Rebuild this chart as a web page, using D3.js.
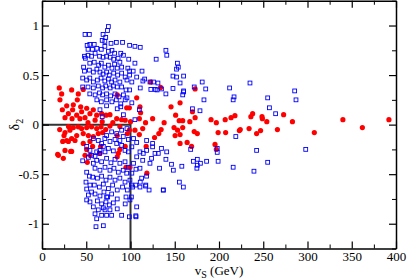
<!DOCTYPE html>
<html>
<head>
<meta charset="utf-8">
<script src="https://cdn.jsdelivr.net/npm/d3@7"></script>
<style>
  body { margin: 0; background: #fff; }
  .axis path, .axis line { stroke: #000; }
</style>
</head>
<body>
<div id="chart"></div>
<script>
// tick values
var xMajor = [0, 50, 100, 150, 200, 250, 300, 350, 400],
    xMinor = d3.range(25, 400, 50),
    yMajor = [-1, -0.5, 0, 0.5, 1],
    yMinor = [-1.25, -0.75, -0.25, 0.25, 0.75, 1.25];

// blue open squares [vS, delta2]
var bluePoints = [
  [75,0.99],[74,0.95],[48.6,0.91],[53.5,0.91],[69,0.91],[72,0.88],[68,0.85],[71,0.84],
  [54,0.81],[59,0.81],[78,0.82],[84,0.83],[91,0.83],[99,0.80],[105,0.79],[111,0.78],
  [52,0.76],[57,0.76],[62,0.77],[67,0.76],[71,0.79],[75,0.74],[79,0.75],[82,0.72],[89,0.72],[92,0.70],[98,0.66],[129,0.66],[140,0.75],[141,0.70],
  [48,0.69],[52,0.70],[56,0.69],[60,0.72],[65,0.69],[69,0.68],[73,0.69],[77,0.68],[81,0.66],[86,0.67],[88,0.63],[105,0.62],[153,0.62],[154,0.58],
  [54,0.62],[59,0.63],[64,0.60],[67,0.62],[71,0.58],[75,0.60],[79,0.57],[82,0.61],[85,0.57],[90,0.58],[97,0.57],[99,0.54],[103,0.54],[113,0.54],[152,0.56],[148,0.49],[160,0.49],
  [48,0.54],[53.5,0.55],[58,0.53],[62,0.56],[65.5,0.53],[69,0.51],[73,0.53],[76,0.50],[81,0.52],[85.5,0.50],[90,0.52],[94,0.48],[99,0.50],[107,0.48],[114,0.44],[116,0.46],
  [122,0.43],[126,0.43],[131,0.42],[111,0.37],[123,0.355],[128,0.355],[130,0.35],[135,0.36],[140,0.31],[148,0.365],[160,0.33],[152,0.48],
  [46,0.47],[50.5,0.45],[54,0.47],[58,0.43],[62.6,0.45],[66.7,0.47],[71,0.44],[75,0.46],[78.7,0.43],[82.5,0.45],[88,0.43],[96,0.45],[101.5,0.43],
  [52,0.38],[58,0.37],[63.6,0.39],[68.5,0.37],[72,0.39],[77,0.37],[80.6,0.39],[85,0.38],[90,0.38],[95,0.35],[99,0.35],
  [54,0.31],[60,0.30],[65,0.32],[68.5,0.30],[73,0.31],[77.5,0.29],[82.5,0.31],[87,0.28],[92,0.30],[96,0.27],
  [62,0.25],[67,0.23],[73,0.25],[79,0.23],[84,0.25],[89,0.21],[94,0.25],[101.5,0.22],
  [73,0.19],[85,0.16],[89,0.18],[110,0.15],[65.5,0.15],[51,0.80],[49,0.67],[46,0.38],[47,0.58],
  [68,0.08],[92,0.10],[105,0.05],
  [156,0.42],[160,0.34],[159,0.30],[172,0.38],[181,0.43],[185,0.36],[183,0.25],[212,0.37],[235,0.42],[217,0.28],[216,0.25],
  [170,0.16],[178.5,0.14],[255,0.27],[257,0.17],[264,0.11],[285.5,0.34],[287,0.25],
  [46,-0.365],[67.4,-0.19],[69.3,-0.22],[61.8,-0.275],[65.5,-0.26],[71.2,-0.275],[75,-0.24],[80.6,-0.265],[84.4,-0.19],[90,-0.21],[93.8,-0.26],
  [97.6,-0.275],[101.5,-0.224],[107,-0.18],[110.7,-0.275],[114.4,-0.29],[118.2,-0.26],[123.8,-0.34],[125,-0.224],[131.4,-0.29],[140,-0.35],
  [146.3,-0.40],[148.4,-0.46],[132.8,-0.44],[110.7,-0.44],[106.2,-0.45],[118.2,-0.52],[112.6,-0.54],[117.3,-0.61],[137.1,-0.66],[155.2,-0.58],[159.7,-0.63],
  [50.5,-0.48],[53.5,-0.52],[49.7,-0.58],[54.2,-0.61],[50.5,-0.65],[56,-0.68],[52.4,-0.71],[50.5,-0.76],[54.2,-0.78],[58,-0.83],[59.9,-0.90],
  [61.8,-0.95],[61,-1.03],[69.3,-1.02],[67.4,-0.915],[63.6,-0.86],[71.2,-0.86],[76.8,-0.86],[73,-0.915],[78.7,-0.915],[90,-0.915],[85,-0.85],[98.7,-0.93],[106.2,-0.93],
  [58,-0.39],[61.8,-0.36],[67.4,-0.375],[73,-0.34],[77.9,-0.385],[82.5,-0.35],[88,-0.39],[93.8,-0.375],[97.6,-0.43],[103.4,-0.39],
  [59.9,-0.44],[65.5,-0.46],[71.2,-0.43],[76.8,-0.46],[81.3,-0.44],[86.2,-0.48],[91.8,-0.46],[95.7,-0.49],[101.5,-0.49],
  [57.3,-0.53],[62.6,-0.54],[67.4,-0.52],[72.3,-0.56],[76.8,-0.53],[82.5,-0.56],[88,-0.54],[93.8,-0.58],[99.4,-0.56],
  [59.1,-0.61],[64.8,-0.63],[69.3,-0.60],[75,-0.645],[79.8,-0.61],[85,-0.66],[91,-0.63],[96.4,-0.66],[102.3,-0.63],
  [59.9,-0.70],[65.5,-0.72],[70,-0.68],[74.2,-0.73],[78.7,-0.70],[85,-0.75],[94.9,-0.73],[99.4,-0.76],
  [62.6,-0.77],[67.4,-0.80],[72.3,-0.78],[76,-0.81],[80.6,-0.79],[69.3,-0.84],[73,-0.73],
  [58,-0.14],[63.6,-0.16],[71,-0.14],[76.8,-0.17],[82.5,-0.15],[88,-0.16],[91.8,-0.12],[97.6,-0.15],[103.4,-0.14],[84.4,-0.09],[90,-0.056],[96,-0.04],
  [73,-0.11],[78.7,-0.073],[50.5,-0.22],[54.2,-0.26],[56,-0.31],[52.4,-0.33],[59.9,-0.32],[65,-0.29],
  [118.2,-0.16],[125,-0.19],[135,-0.24],[140.9,-0.275],[122,-0.39],[127.7,-0.29],[107,-0.325],[113.8,-0.36],[110.7,-0.63],[107,-0.83],[94,-0.80],
  [101,-0.61],[106,-0.61],[111,-0.58],[117,-0.62],[121,-0.66],[137,-0.66],[101,-0.73],[106,-0.92],
  [168,-0.25],[198,-0.24],[198,-0.28],[219,-0.12],[158,-0.42],[171,-0.37],[175.5,-0.35],[175.5,-0.41],[175,-0.44],[179,-0.39],[186,-0.37],
  [199,-0.37],[216,-0.43],[242.5,-0.26],[255,-0.38],[239.5,-0.47],[298,-0.25]
];

// red filled circles [vS, delta2]
var redPoints = [
  [19.5,0.37],[22.2,0.31],[20.3,0.25],[33.5,0.35],[46.6,0.355],[41,0.31],[27.9,0.19],[35.4,0.20],[39.9,0.25],[43.7,0.18],[29.8,0.11],[34.6,0.15],
  [39.2,0.095],[44.8,0.13],[50.5,0.165],[54.2,0.11],[58,0.15],[61.8,0.095],[67.4,0.11],[72.3,0.095],[76.8,0.10],[42.9,0.06],[48.6,0.07],[60,0.045],
  [84.4,0.06],[90,0.05],[95.7,0.17],[98.7,0.17],[85,0.30],[107,0.27],[110.7,0.18],[111.4,0.12],[122.8,0.43],[134,0.375],[125,0.06],[145.8,0.18],
  [151,0.095],[155,0.04],[110,0.06],[94,0.045],[26,0.07],[34,0.06],[23,0.15],[52,0.02],[68,0.03],[80,0.02],[100,0.03],[117,0.02],[138,0.02],
  [156,0.22],[159,0.04],[159,-0.03],[167,0.03],[170,0.13],[173,0.07],[173,0.36],[191,0.05],[197,0.02],[207,0.05],[213.6,0.07],[218,0.09],
  [224,-0.05],[234,-0.04],[236,0.08],[238,0.11],[248.6,0.08],[249,0.06],[254,0.03],[247,-0.06],[266,-0.05],[273,0.10],[283,0.03],[340,0.05],[362,-0.03],[392,0.05],
  [156,-0.10],[172,-0.07],[175.5,-0.09],[156,-0.19],[164,-0.18],[169,-0.22],[199,-0.08],[207.5,-0.08],[223,-0.06],[242.5,-0.09],[307.7,-0.08],[195.5,-0.20],[197,-0.25],
  [26,-0.08],[24.9,-0.11],[31.6,-0.056],[35.4,-0.03],[41,-0.022],[44.8,-0.04],[50.5,-0.03],[56,-0.022],[61.8,-0.04],[66.7,-0.022],[76.8,-0.015],
  [23.4,-0.17],[27.9,-0.16],[33.5,-0.14],[39.2,-0.11],[46.6,-0.09],[52.4,-0.11],[58,-0.12],[63.6,-0.09],[68.5,-0.08],[17.7,-0.30],[24.1,-0.34],
  [26,-0.26],[33.5,-0.27],[50.5,-0.25],[57.2,-0.22],[66.3,-0.22],[46.6,-0.19],[54.2,-0.17],[85,-0.11],[85,-0.325],[88,-0.25],[94,-0.22],[96.4,-0.09],
  [98.7,-0.056],[99.4,-0.43],[105,-0.056],[110,-0.10],[113.8,-0.04],[117.7,-0.22],[118.5,-0.49],[127.2,-0.13],[132,-0.09],[134.6,-0.05],
  [149.2,-0.03],[150.4,-0.11],[153.2,-0.056],[18.5,-0.31],[32.4,-0.27],[29.8,-0.17],[37.3,-0.16],[48.6,-0.31],[51.2,-0.38],
  [54.2,-0.31],[65.5,-0.29],[86.2,-0.29],[94.9,-0.43],[20,-0.05],[30,-0.02],[72,-0.05],[88,-0.02]
];

// guide line: along delta2 = 0 up to vS = 100, then down
var guideLine = [[0, 0], [100, 0], [100, -1.25]];

(function () {
    var svgWidth = 407, svgHeight = 280;
    var plotLeft = 42, plotRight = 396, plotTop = 0.75, plotBottom = 248.5;
    var serif = "'Liberation Serif', 'DejaVu Serif', serif";

    var x = d3.scaleLinear().domain([0, 400]).range([plotLeft, plotRight]);
    var y = d3.scaleLinear().domain([-1.25, 1.25]).range([plotBottom, plotTop]);

    var svg = d3.select("#chart").append("svg")
        .attr("width", svgWidth)
        .attr("height", svgHeight);

    // guide line
    svg.append("path")
        .datum(guideLine)
        .attr("fill", "none")
        .attr("stroke", "#333")
        .attr("stroke-width", 2)
        .attr("d", d3.line().x(d => x(d[0])).y(d => y(d[1])));

    // red dots
    svg.append("g").selectAll("circle")
        .data(redPoints)
        .enter().append("circle")
        .attr("cx", d => x(d[0]))
        .attr("cy", d => y(d[1]))
        .attr("r", 2.6)
        .attr("fill", "#ff0000");

    // blue squares
    var s = 3.8;
    svg.append("g").selectAll("rect")
        .data(bluePoints)
        .enter().append("rect")
        .attr("x", d => x(d[0]) - s / 2)
        .attr("y", d => y(d[1]) - s / 2)
        .attr("width", s)
        .attr("height", s)
        .attr("fill", "none")
        .attr("stroke", "#0000ff")
        .attr("stroke-width", 0.9);

    var fmt = d => String(d);

    // ticks point inward, minor ticks shorter
    function addAxis(axis, tr, major, minor, labels) {
        var g = svg.append("g").attr("class", "axis").attr("transform", tr)
            .call(axis.tickValues(major).tickSizeInner(-7).tickSizeOuter(0).tickPadding(labels ? 3 : 0)
                .tickFormat(labels ? fmt : ""))
            .attr("font-family", serif)
            .attr("font-size", 13);
        g.select(".domain").attr("stroke-width", 1.5);
        g.selectAll(".tick line").attr("stroke-width", 1.2);
        g.selectAll("text").attr("fill", "#000");
        var gm = svg.append("g").attr("class", "axis").attr("transform", tr)
            .call(axis.tickValues(minor).tickSizeInner(-4).tickSizeOuter(0).tickFormat(""));
        gm.select(".domain").remove();
        return g;
    }

    addAxis(d3.axisBottom(x), `translate(0,${plotBottom})`, xMajor, xMinor, true);
    addAxis(d3.axisTop(x), `translate(0,${plotTop})`, xMajor, xMinor, false);
    addAxis(d3.axisLeft(y), `translate(${plotLeft},0)`, yMajor, yMinor, true);
    addAxis(d3.axisRight(y), `translate(${plotRight},0)`, yMajor, yMinor, false);

    // axis titles
    var xt = svg.append("text")
        .attr("x", (plotLeft + plotRight) / 2)
        .attr("y", 274.5)
        .attr("text-anchor", "middle")
        .attr("font-family", serif)
        .attr("font-size", 13);
    xt.append("tspan").text("v");
    xt.append("tspan").attr("dy", 3).attr("font-size", 10).text("S");
    xt.append("tspan").attr("dy", -3).text(" (GeV)");

    var yt = svg.append("text")
        .attr("transform", `translate(19,${(plotTop + plotBottom) / 2}) rotate(-90)`)
        .attr("text-anchor", "middle")
        .attr("font-family", serif)
        .attr("font-size", 14);
    yt.append("tspan").text("δ");
    yt.append("tspan").attr("dy", 4).attr("font-size", 10).text("2");
})();
</script>
</body>
</html>
